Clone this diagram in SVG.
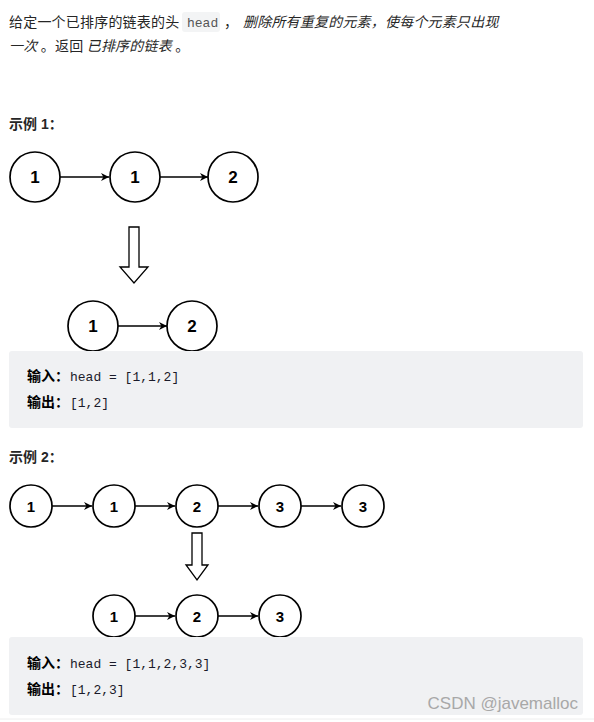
<svg xmlns="http://www.w3.org/2000/svg" width="594" height="722" viewBox="0 0 594 722">
<defs>
<marker id="ah" viewBox="0 0 10 10" refX="10" refY="5" markerWidth="9" markerHeight="8" markerUnits="userSpaceOnUse" orient="auto"><path d="M0,0 L10,5 L0,10 L3,5 Z" fill="#000"/></marker>
</defs>
<style>
.t{font-family:"Noto Sans CJK SC","Liberation Sans",sans-serif;font-size:14px;fill:#262626;letter-spacing:0.2px}
.i{font-style:italic}
.h{font-family:"Liberation Sans","Noto Sans CJK SC",sans-serif;font-size:14px;font-weight:bold;fill:#262626}
.n{fill:#fff;stroke:#000;stroke-width:1.7}
.lb{font-family:"Liberation Sans",Arial,sans-serif;font-weight:bold;fill:#000;text-anchor:middle;dominant-baseline:central}
.e{stroke:#000;stroke-width:1.4;fill:none;marker-end:url(#ah)}
.da{fill:#fff;stroke:#000;stroke-width:1.3}
.box{fill:#f0f1f3}
.cl{font-family:"Noto Sans CJK SC",sans-serif;font-size:14px;font-weight:bold;fill:#000}
.cd{font-family:"Liberation Mono","DejaVu Sans Mono",monospace;font-size:13px;fill:#1a1a2a}
</style>
<rect width="594" height="722" fill="#fff"/>
<g id="intro">
<text class="t" x="9" y="27">给定一个已排序的链表的头</text>
<rect x="182" y="12" width="38" height="20" rx="3" fill="#f3f4f5"/>
<text x="187" y="27" style="font-family:'Liberation Mono',monospace;font-size:13px;fill:#555">head</text>
<text class="t" x="224" y="27">，</text>
<text class="t i" x="243" y="27">删除所有重复的元素，使每个元素只出现</text>
<text class="t" x="9" y="51"><tspan class="i">一次</tspan> 。返回 <tspan class="i">已排序的链表</tspan> 。</text>
</g>
<text class="h" x="9" y="129">示例 1：</text>
<g id="connectors">
<line class="e" x1="60" y1="177" x2="109" y2="177"/>
<line class="e" x1="160" y1="177" x2="208" y2="177"/>
<line class="e" x1="118" y1="326" x2="167" y2="326"/>
<line class="e" x1="52" y1="506" x2="92" y2="506"/>
<line class="e" x1="135" y1="506" x2="175" y2="506"/>
<line class="e" x1="218" y1="506" x2="258" y2="506"/>
<line class="e" x1="301" y1="506" x2="341" y2="506"/>
<line class="e" x1="135" y1="616" x2="175" y2="616"/>
<line class="e" x1="218" y1="616" x2="258" y2="616"/>
</g>
<g id="a1n1"><circle class="n" cx="35" cy="177" r="25"/><text class="lb" x="35" y="177" font-size="17">1</text></g>
<g id="a1n2"><circle class="n" cx="135" cy="177" r="25"/><text class="lb" x="135" y="177" font-size="17">1</text></g>
<g id="a1n3"><circle class="n" cx="233" cy="177" r="25"/><text class="lb" x="233" y="177" font-size="17">2</text></g>
<g id="arrow1"><path class="da" d="M129,227 H139 V267 H148 L134,283 L120,267 H129 Z"/></g>
<g id="b1n1"><circle class="n" cx="93" cy="326" r="25"/><text class="lb" x="93" y="326" font-size="17">1</text></g>
<g id="b1n2"><circle class="n" cx="192" cy="326" r="25"/><text class="lb" x="192" y="326" font-size="17">2</text></g>
<g id="code1">
<rect class="box" x="9" y="351" width="574" height="77" rx="3"/>
<text class="cl" x="27" y="381">输入：</text><text class="cd" x="70" y="381">head = [1,1,2]</text>
<text class="cl" x="27" y="407">输出：</text><text class="cd" x="70" y="407">[1,2]</text>
</g>
<text class="h" x="9" y="462">示例 2：</text>
<g id="a2n1"><circle class="n" cx="31" cy="506" r="21"/><text class="lb" x="31" y="506" font-size="15">1</text></g>
<g id="a2n2"><circle class="n" cx="114" cy="506" r="21"/><text class="lb" x="114" y="506" font-size="15">1</text></g>
<g id="a2n3"><circle class="n" cx="197" cy="506" r="21"/><text class="lb" x="197" y="506" font-size="15">2</text></g>
<g id="a2n4"><circle class="n" cx="280" cy="506" r="21"/><text class="lb" x="280" y="506" font-size="15">3</text></g>
<g id="a2n5"><circle class="n" cx="363" cy="506" r="21"/><text class="lb" x="363" y="506" font-size="15">3</text></g>
<g id="arrow2"><path class="da" d="M192,533 H202 V565 H208 L197,580 L186,565 H192 Z"/></g>
<g id="b2n1"><circle class="n" cx="114" cy="616" r="21"/><text class="lb" x="114" y="616" font-size="15">1</text></g>
<g id="b2n2"><circle class="n" cx="197" cy="616" r="21"/><text class="lb" x="197" y="616" font-size="15">2</text></g>
<g id="b2n3"><circle class="n" cx="280" cy="616" r="21"/><text class="lb" x="280" y="616" font-size="15">3</text></g>
<g id="code2">
<rect class="box" x="9" y="637" width="574" height="78" rx="3"/>
<text class="cl" x="27" y="668">输入：</text><text class="cd" x="70" y="668">head = [1,1,2,3,3]</text>
<text class="cl" x="27" y="694">输出：</text><text class="cd" x="70" y="694">[1,2,3]</text>
<text x="578" y="709" text-anchor="end" style="font-family:'Liberation Sans',sans-serif;font-size:17px;fill:#a8a8a8">CSDN @javemalloc</text>
</g>
<line x1="0" y1="719" x2="594" y2="719" stroke="#eee" stroke-width="1"/>
</svg>
